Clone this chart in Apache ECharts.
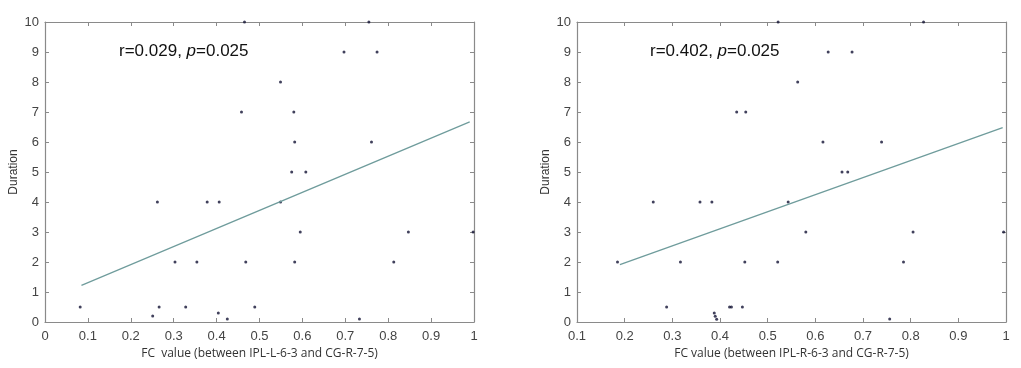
<!DOCTYPE html>
<html><head><meta charset="utf-8">
<script src="https://cdn.jsdelivr.net/npm/echarts@6/dist/echarts.min.js"></script>
<style>html,body{margin:0;padding:0;background:#fff}#c{width:1021px;height:368px}</style>
</head><body><div id="c"></div>
<script>
// Left panel: FC value (IPL-L-6-3 & CG-R-7-5) vs Duration
const leftPoints = [
  [0.082,0.5],[0.262,4],[0.251,0.2],[0.266,0.5],[0.303,2],[0.328,0.5],[0.354,2],
  [0.378,4],[0.406,4],[0.404,0.3],[0.425,0.1],[0.468,2],[0.465,10],[0.458,7],
  [0.489,0.5],[0.549,8],[0.549,4],[0.575,5],[0.608,5],[0.580,7],[0.582,6],
  [0.595,3],[0.582,2],[0.697,9],[0.755,10],[0.774,9],[0.761,6],[0.733,0.1],
  [0.847,3],[0.813,2],[0.998,3]
];
const leftFit = [[0.085,1.22],[0.99,6.67]];
// Right panel: FC value (IPL-R-6-3 & CG-R-7-5) vs Duration
const rightPoints = [
  [0.185,2],[0.260,4],[0.288,0.5],[0.317,2],[0.358,4],[0.383,4],[0.388,0.3],
  [0.390,0.19],[0.393,0.09],[0.420,0.5],[0.424,0.5],[0.447,0.5],[0.452,2],
  [0.435,7],[0.454,7],[0.522,10],[0.521,2],[0.543,4],[0.563,8],[0.580,3],
  [0.616,6],[0.627,9],[0.656,5],[0.668,5],[0.677,9],[0.739,6],[0.756,0.1],
  [0.785,2],[0.805,3],[0.827,10],[0.995,3]
];
const rightFit = [[0.19,1.91],[0.993,6.48]];
const leftStats = ['r=0.029, ', 'p', '=0.025'];
const rightStats = ['r=0.402, ', 'p', '=0.025'];
const xNameLeft = 'FC  value (between IPL-L-6-3 and CG-R-7-5)';
const xNameRight = 'FC value (between IPL-R-6-3 and CG-R-7-5)';
const yName = 'Duration';
const yMin = 0, yMax = 10, yStep = 1;
const leftX = {min:0, max:1, step:0.1};
const rightX = {min:0.1, max:1, step:0.1};

const axisColor = '#8a8a8a';
const labelColor = '#444';
const fitColor = '#6f9c9c';
const dotColor = '#111133';

function xAxes(gi, r, name) {
  const base = {gridIndex:gi, type:'value', min:r.min, max:r.max, interval:r.step,
    splitLine:{show:false},
    axisLine:{show:true, onZero:false, lineStyle:{color:axisColor, width:1.2}},
    axisTick:{show:true, inside:true, length:4, lineStyle:{color:axisColor}}};
  return [
    Object.assign({}, base, {position:'bottom',
      axisLabel:{color:labelColor, fontFamily:'Liberation Sans, Arial', fontSize:13, margin:8,
        formatter: v => (Math.round(v*10)/10).toString()},
      name:name, nameLocation:'middle', nameGap:25,
      nameTextStyle:{color:'#333', fontFamily:'Open Sans, Noto Sans', fontSize:12}}),
    Object.assign({}, base, {position:'top', axisLabel:{show:false}})
  ];
}
function yAxes(gi) {
  const base = {gridIndex:gi, type:'value', min:yMin, max:yMax, interval:yStep,
    splitLine:{show:false},
    axisLine:{show:true, onZero:false, lineStyle:{color:axisColor, width:1.2}},
    axisTick:{show:true, inside:true, length:4, lineStyle:{color:axisColor}}};
  return [
    Object.assign({}, base, {position:'left',
      axisLabel:{color:labelColor, fontFamily:'Liberation Sans, Arial', fontSize:13, margin:6},
      name:yName, nameLocation:'middle', nameGap:25, nameRotate:90,
      nameTextStyle:{color:'#333', fontFamily:'Liberation Sans, Arial', fontSize:12}}),
    Object.assign({}, base, {position:'right', axisLabel:{show:false}})
  ];
}
function statsTitle(s, left) {
  return {text:'{n|'+s[0]+'}{i|'+s[1]+'}{n|'+s[2]+'}', left:left, top:38,
    textStyle:{fontWeight:'normal', rich:{
      n:{fontFamily:'Liberation Sans, Arial', fontSize:17, fontWeight:'normal', color:'#111'},
      i:{fontFamily:'Liberation Sans, Arial', fontSize:17, fontWeight:'normal', fontStyle:'italic', color:'#111'}}}};
}

const chart = echarts.init(document.getElementById('c'), null, {renderer:'canvas'});
chart.setOption({
  animation:false,
  backgroundColor:'#fff',
  title:[statsTitle(leftStats,114), statsTitle(rightStats,645)],
  grid:[
    {left:45, top:22, width:429, height:300},
    {left:577, top:22, width:429, height:300}
  ],
  xAxis: xAxes(0, leftX, xNameLeft).concat(xAxes(1, rightX, xNameRight)),
  yAxis: yAxes(0).concat(yAxes(1)),
  series:[
    {type:'scatter', xAxisIndex:0, yAxisIndex:0, data:leftPoints, symbolSize:3,
      itemStyle:{color:dotColor}},
    {type:'line', xAxisIndex:0, yAxisIndex:0, data:leftFit, symbol:'none',
      lineStyle:{color:fitColor, width:1.3}},
    {type:'scatter', xAxisIndex:2, yAxisIndex:2, data:rightPoints, symbolSize:3,
      itemStyle:{color:dotColor}},
    {type:'line', xAxisIndex:2, yAxisIndex:2, data:rightFit, symbol:'none',
      lineStyle:{color:fitColor, width:1.3}}
  ]
});
</script>
</body></html>
